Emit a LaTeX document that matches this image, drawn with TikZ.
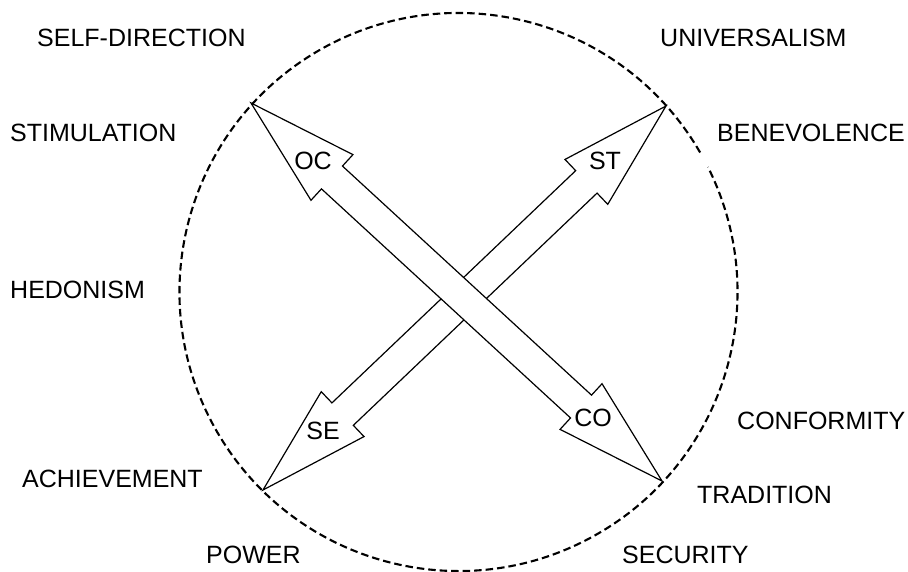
\documentclass[tikz,border=0pt]{standalone}
\usepackage{fontspec}
\setmainfont{Liberation Sans}
\usetikzlibrary{calc}
\newcommand\blockarrow[2]{%
  \draw[blk] (#1)
    -- ($(#1)!110pt!(#2)!31pt!90:(#2)$)
    -- ($(#1)!110pt!(#2)!15.5pt!90:(#2)$)
    -- ($(#2)!110pt!(#1)!15.5pt!-90:(#1)$)
    -- ($(#2)!110pt!(#1)!31pt!-90:(#1)$)
    -- (#2)
    -- ($(#2)!110pt!(#1)!31pt!90:(#1)$)
    -- ($(#2)!110pt!(#1)!15.5pt!90:(#1)$)
    -- ($(#1)!110pt!(#2)!15.5pt!-90:(#2)$)
    -- ($(#1)!110pt!(#2)!31pt!-90:(#2)$)
    -- cycle;}
\begin{document}
\begin{tikzpicture}[x=1pt,y=-1pt,
  lbl/.style={font=\fontsize{25}{30}\selectfont, inner sep=0pt, anchor=west},
  albl/.style={font=\fontsize{25}{30}\selectfont, inner sep=0pt},
  blk/.style={draw, fill=white, line width=1.2pt, line join=miter},
  ring/.style={draw, line width=2.1pt, dash pattern=on 7.5pt off 4pt}]
\useasboundingbox (0,0) rectangle (908,571);
\fill[white] (0,0) rectangle (908,571);
\coordinate (C) at (458.5,292);
\coordinate (OCt) at (251,103);
\coordinate (COt) at (662,481);
\coordinate (STt) at (666,106);
\coordinate (SEt) at (263,490);
\draw[ring] (C) ++(30:279pt) arc[start angle=30, end angle=386.6, radius=279pt];
\blockarrow{STt}{SEt}
\blockarrow{OCt}{COt}
\node[albl] (oc) at (313,161) {OC};
\node[albl] (st) at (605,161) {ST};
\node[albl] (se) at (323,431) {SE};
\node[albl] (co) at (593,418) {CO};
\node[lbl] (selfdir) at (37,38) {SELF-DIRECTION};
\node[lbl] (univ) at (660,38) {UNIVERSALISM};
\node[lbl] (stim) at (10,133) {STIMULATION};
\node[lbl] (bene) at (717,133) {BENEVOLENCE};
\node[lbl] (hedo) at (10,290) {HEDONISM};
\node[lbl] (conf) at (737,421) {CONFORMITY};
\node[lbl] (achi) at (22,479) {ACHIEVEMENT};
\node[lbl] (trad) at (697,495) {TRADITION};
\node[lbl] (power) at (206,555) {POWER};
\node[lbl] (secu) at (622,555) {SECURITY};
\end{tikzpicture}
\end{document}
